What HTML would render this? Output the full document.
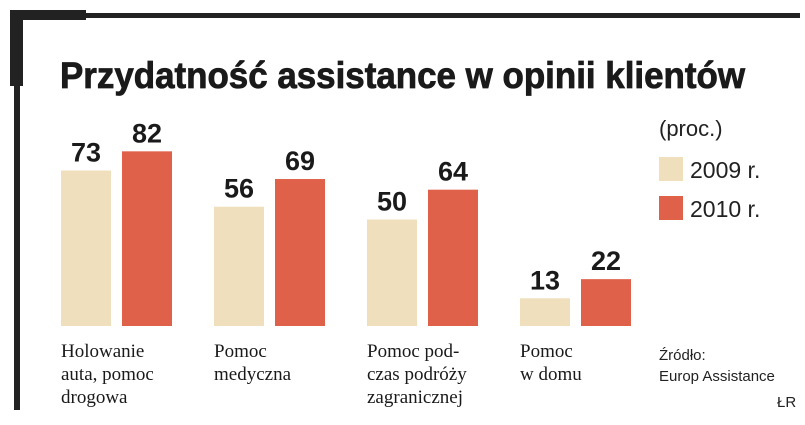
<!DOCTYPE html>
<html><head><meta charset="utf-8"><style>
html,body{margin:0;padding:0;background:#fff;width:805px;height:425px;overflow:hidden}
svg{display:block}
</style></head><body>
<svg width="805" height="425" viewBox="0 0 805 425" xmlns="http://www.w3.org/2000/svg">
<g fill="#222">
<rect x="10" y="10" width="76" height="10"/>
<rect x="10" y="13" width="790" height="5"/>
<rect x="10" y="10" width="13" height="76"/>
<rect x="14" y="10" width="6" height="400"/>
</g>
<text x="60" y="88" font-family="Liberation Sans, sans-serif" font-weight="bold" font-size="37" fill="#1a1a1a" stroke="#1a1a1a" stroke-width="0.8" textLength="685" lengthAdjust="spacingAndGlyphs">Przydatność assistance w opinii klientów</text>
<g id="bars"></g>
<g font-family="Liberation Sans, sans-serif" fill="#222">
<text x="659" y="136" font-size="22">(proc.)</text>
<rect x="659" y="157" width="24" height="24" fill="#f0dfbc"/>
<text x="690" y="178" font-size="23">2009 r.</text>
<rect x="659" y="196" width="24" height="24" fill="#e0614a"/>
<text x="690" y="217" font-size="23">2010 r.</text>
</g>
<g font-family="Liberation Sans, sans-serif" font-size="15" fill="#222">
<text x="659" y="360">Źródło:</text>
<text x="659" y="381">Europ Assistance</text>
<text x="777" y="407">ŁR</text>
</g>
</svg>
<script>
const categories=[["Holowanie","auta, pomoc","drogowa"],["Pomoc","medyczna"],["Pomoc pod-","czas podróży","zagranicznej"],["Pomoc","w domu"]];
const values2009=[73,56,50,13];
const values2010=[82,69,64,22];
const NS="http://www.w3.org/2000/svg";
const g=document.getElementById('bars');
const base=326, k=2.13, x0=61, step=153, bw=50, gap=61;
const y=v=>base-v*k;
function mk(t,a){const e=document.createElementNS(NS,t);for(const n in a)e.setAttribute(n,a[n]);g.appendChild(e);return e;}
categories.forEach((c,i)=>{
  const xs=x0+i*step;
  [[values2009,'#f0dfbc',0,'2009'],[values2010,'#e0614a',gap,'2010']].forEach(([arr,col,off,yr])=>{
    const v=arr[i];
    const r=mk('rect',{x:xs+off,y:y(v),width:bw,height:v*k,fill:col});
    
    
    const t=mk('text',{x:xs+off+bw/2,y:y(v)-9,'text-anchor':'middle','font-family':'Liberation Sans, sans-serif','font-weight':'bold','font-size':'27',fill:'#1a1a1a'});
    t.textContent=v;
    
    
  });
  c.forEach((line,j)=>{
    const t=mk('text',{x:xs,y:357+j*23,'font-family':'Liberation Serif, serif','font-size':'19',fill:'#1a1a1a'});
    t.textContent=line;
    
    
  });
});
</script>
</body></html>
